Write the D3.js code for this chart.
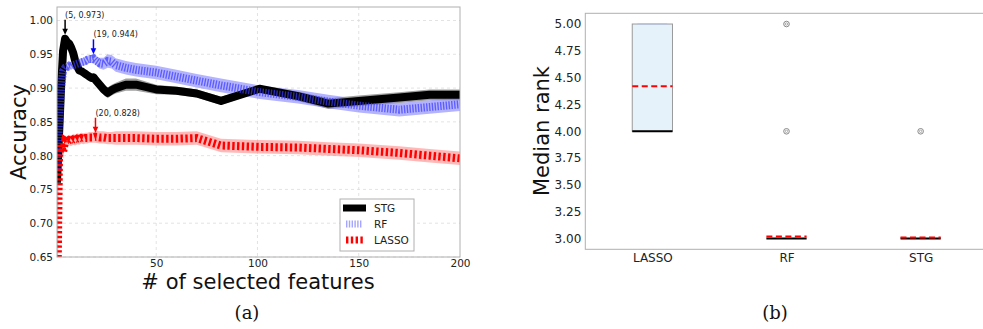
<!DOCTYPE html>
<html>
<head>
<meta charset="utf-8">
<script src="https://cdn.jsdelivr.net/npm/d3@7"></script>
<style>
  body { margin: 0; background: #fff; }
  svg { display: block; font-family: "DejaVu Sans", sans-serif; }
</style>
</head>
<body>
<div id="chart"></div>
<script>
// ---- panel (a): accuracy vs # of selected features ----
const featureCounts = [1,2,3,4,5,6,7,8,9,10,11,12,13,14,15,16,17,18,19,20,22,24,26,28,30,35,40,50,60,70,82,101,120,135,150,170,185,200];
const stgMean = [0.76,0.83,0.90,0.955,0.973,0.968,0.966,0.96,0.952,0.94,0.932,0.926,0.925,0.923,0.921,0.919,0.917,0.915,0.916,0.912,0.905,0.898,0.893,0.897,0.90,0.905,0.905,0.898,0.896,0.892,0.881,0.899,0.888,0.877,0.881,0.886,0.89,0.89];
const stgStd  = [0.01,0.01,0.008,0.005,0.004,0.004,0.004,0.004,0.004,0.004,0.004,0.004,0.004,0.004,0.004,0.004,0.004,0.004,0.004,0.005,0.006,0.007,0.008,0.008,0.008,0.009,0.009,0.007,0.006,0.006,0.006,0.005,0.007,0.008,0.008,0.008,0.008,0.008];
const rfMean  = [0.78,0.85,0.90,0.925,0.93,0.931,0.933,0.932,0.934,0.935,0.936,0.937,0.938,0.939,0.94,0.942,0.943,0.943,0.944,0.941,0.937,0.936,0.94,0.939,0.934,0.93,0.927,0.923,0.917,0.911,0.904,0.894,0.887,0.88,0.874,0.868,0.872,0.876];
const rfStd   = [0.15,0.02,0.01,0.006,0.005,0.005,0.005,0.005,0.005,0.006,0.006,0.006,0.006,0.006,0.006,0.006,0.006,0.006,0.006,0.007,0.008,0.009,0.01,0.01,0.01,0.01,0.01,0.01,0.01,0.01,0.01,0.01,0.01,0.01,0.01,0.01,0.01,0.01];
const lassoMean = [0.55,0.80,0.815,0.805,0.822,0.82,0.823,0.822,0.824,0.823,0.825,0.824,0.826,0.825,0.826,0.826,0.827,0.827,0.827,0.828,0.827,0.827,0.826,0.826,0.826,0.826,0.826,0.825,0.825,0.826,0.815,0.813,0.812,0.81,0.808,0.804,0.80,0.796];
const lassoStd  = [0.1,0.01,0.01,0.01,0.008,0.008,0.008,0.008,0.008,0.008,0.008,0.008,0.008,0.008,0.008,0.008,0.008,0.008,0.008,0.009,0.009,0.009,0.009,0.009,0.01,0.01,0.01,0.01,0.01,0.01,0.01,0.01,0.01,0.01,0.01,0.01,0.01,0.01];
const accTicks = [0.65,0.70,0.75,0.80,0.85,0.90,0.95,1.00];
const featTicks = [50,100,150,200];
const annX = [5, 19, 20];
const annY = [0.973, 0.944, 0.828];
const annColor = ["black", "blue", "red"];

// ---- panel (b): median rank box plot ----
const boxCats = ["LASSO", "RF", "STG"];
const boxQ1 = [4, 3, 3];
const boxMedian = [4, 3, 3];
const boxQ3 = [5, 3, 3];
const boxMean = [4.42, 3.02, 3.01];
const boxFliers = [[], [4, 5], [4]];
const rankTicks = [3.00,3.25,3.50,3.75,4.00,4.25,4.50,4.75,5.00];

const width = 983, height = 329;
const svg = d3.select("#chart").append("svg")
  .attr("width", width).attr("height", height);

const spine = "#b0b0b0";
const tickColor = "#222";

// ===== panel (a) =====
const a = { left: 57, right: 460, top: 7, bottom: 257 };
const x = d3.scaleLinear().domain([1, 200]).range([a.left, a.right]);
const y = d3.scaleLinear().domain([0.65, 1.02]).range([a.bottom, a.top]);

svg.append("clipPath").attr("id", "clipA")
  .append("rect").attr("x", a.left).attr("y", a.top)
  .attr("width", a.right - a.left).attr("height", a.bottom - a.top);

const ga = svg.append("g");

// grid
ga.selectAll(".hgrid").data(accTicks).enter().append("line")
  .attr("x1", a.left).attr("x2", a.right)
  .attr("y1", d => y(d)).attr("y2", d => y(d))
  .attr("stroke", "#dcdcdc").attr("stroke-dasharray", "3,3").attr("stroke-width", 0.8);
ga.selectAll(".vgrid").data(featTicks.filter(d => d < 200)).enter().append("line")
  .attr("y1", a.top).attr("y2", a.bottom)
  .attr("x1", d => x(d)).attr("x2", d => x(d))
  .attr("stroke", "#dcdcdc").attr("stroke-dasharray", "3,3").attr("stroke-width", 0.8);

const plot = ga.append("g").attr("clip-path", "url(#clipA)");

function band(mean, std) {
  return d3.area()
    .x((d, i) => x(featureCounts[i]))
    .y0((d, i) => y(mean[i] - std[i]))
    .y1((d, i) => y(mean[i] + std[i]))(mean);
}
function line(mean) {
  return d3.line().x((d, i) => x(featureCounts[i])).y(d => y(d))(mean);
}

plot.append("path").attr("d", band(stgMean, stgStd)).attr("fill", "#808080").attr("opacity", 0.75);
plot.append("path").attr("d", band(rfMean, rfStd)).attr("fill", "#8080ff").attr("opacity", 0.6);
plot.append("path").attr("d", band(lassoMean, lassoStd)).attr("fill", "#ff8080").attr("opacity", 0.55);

plot.append("path").attr("d", line(stgMean))
  .attr("fill", "none").attr("stroke", "black").attr("stroke-width", 8)
  .attr("stroke-linejoin", "round");
plot.append("path").attr("d", line(rfMean))
  .attr("fill", "none").attr("stroke", "#3a3aff").attr("stroke-width", 8)
  .attr("stroke-dasharray", "1.4,1.4").attr("opacity", 0.7);
plot.append("path").attr("d", line(lassoMean))
  .attr("fill", "none").attr("stroke", "red").attr("stroke-width", 8)
  .attr("stroke-dasharray", "2.4,2.4");

// annotations
annX.forEach((v, i) => {
  const px = x(v), py = y(annY[i]);
  ga.append("text").attr("x", px).attr("y", py - 21)
    .attr("font-size", 8).attr("fill", "#222")
    .text(`(${v}, ${annY[i].toFixed(3)})`);
  ga.append("line").attr("x1", px).attr("x2", px)
    .attr("y1", py - 19).attr("y2", py - 9)
    .attr("stroke", annColor[i]).attr("stroke-width", 1.5);
  ga.append("path")
    .attr("d", `M${px - 2.8},${py - 10} L${px + 2.8},${py - 10} L${px},${py - 4} Z`)
    .attr("fill", annColor[i]);
});

// frame
ga.append("rect").attr("x", a.left).attr("y", a.top)
  .attr("width", a.right - a.left).attr("height", a.bottom - a.top)
  .attr("fill", "none").attr("stroke", spine).attr("stroke-width", 1);

// axes
const yAxisA = ga.append("g").attr("transform", `translate(${a.left},0)`)
  .call(d3.axisLeft(y).tickValues(accTicks).tickFormat(d3.format(".2f")).tickSize(0).tickPadding(4));
const xAxisA = ga.append("g").attr("transform", `translate(0,${a.bottom})`)
  .call(d3.axisBottom(x).tickValues(featTicks).tickFormat(d3.format("d")).tickSize(0).tickPadding(3));
[yAxisA, xAxisA].forEach(g => {
  g.select(".domain").remove();
  g.selectAll("text").attr("font-size", 10.5).attr("fill", tickColor)
    .attr("font-family", "DejaVu Sans");
});

ga.append("text")
  .attr("transform", `translate(26,132) rotate(-90)`)
  .attr("text-anchor", "middle").attr("font-size", 21).attr("fill", "#111")
  .text("Accuracy");
ga.append("text")
  .attr("x", 258).attr("y", 289)
  .attr("text-anchor", "middle").attr("font-size", 21).attr("fill", "#111")
  .text("# of selected features");
ga.append("text")
  .attr("x", 247).attr("y", 319)
  .attr("text-anchor", "middle").attr("font-size", 18).attr("fill", "#111")
  .attr("font-family", "DejaVu Serif")
  .text("(a)");

// legend
const legend = ga.append("g");
legend.append("rect").attr("x", 340).attr("y", 199).attr("width", 74).attr("height", 52)
  .attr("fill", "white").attr("stroke", spine).attr("stroke-width", 1);
const legItems = [
  { name: "STG", color: "black", dash: null, opacity: 1, x1: 343, x2: 366 },
  { name: "RF", color: "#6a6aff", dash: "1.4,1.4", opacity: 0.6, x1: 346, x2: 362 },
  { name: "LASSO", color: "red", dash: "2.4,2.4", opacity: 1, x1: 346, x2: 364 }
];
legItems.forEach((d, i) => {
  const ly = 208 + i * 16;
  legend.append("line").attr("x1", d.x1).attr("x2", d.x2)
    .attr("y1", ly).attr("y2", ly)
    .attr("stroke", d.color).attr("stroke-width", 7)
    .attr("stroke-dasharray", d.dash).attr("opacity", d.opacity);
  legend.append("text").attr("x", 374).attr("y", ly + 4)
    .attr("font-size", 10.5).attr("fill", "#222").text(d.name);
});

// ===== panel (b) =====
const b = { left: 585.3, right: 987.7, top: 13.3, bottom: 249.3 };
const xr = d3.scaleLinear().domain([0.5, 3.5]).range([b.left, b.right]);
const yr = d3.scaleLinear().domain([2.9, 5.1]).range([b.bottom, b.top]);
const gb = svg.append("g");
const boxW = 0.3;

boxCats.forEach((c, i) => {
  const cx = xr(i + 1);
  const x0 = xr(i + 1 - boxW / 2), x1 = xr(i + 1 + boxW / 2);
  if (boxQ3[i] > boxQ1[i]) {
    gb.append("rect").attr("x", x0).attr("y", yr(boxQ3[i]))
      .attr("width", x1 - x0).attr("height", yr(boxQ1[i]) - yr(boxQ3[i]))
      .attr("fill", "#e6f2f9").attr("stroke", "#9a9a9a").attr("stroke-width", 1);
    gb.append("line").attr("x1", xr(i + 1 - 0.11)).attr("x2", xr(i + 1 + 0.11))
      .attr("y1", yr(boxQ3[i])).attr("y2", yr(boxQ3[i]))
      .attr("stroke", "#b8c4dc").attr("stroke-width", 1.5);
  }
  gb.append("line").attr("x1", x0).attr("x2", x1)
    .attr("y1", yr(boxMedian[i])).attr("y2", yr(boxMedian[i]))
    .attr("stroke", "black").attr("stroke-width", 2);
  gb.append("line").attr("x1", x0).attr("x2", x1)
    .attr("y1", yr(boxMean[i])).attr("y2", yr(boxMean[i]))
    .attr("stroke", "red").attr("stroke-width", 2).attr("stroke-dasharray", "6,3.5");
  boxFliers[i].forEach(f => {
    gb.append("circle").attr("cx", cx).attr("cy", yr(f)).attr("r", 2.8)
      .attr("fill", "none").attr("stroke", "#888").attr("stroke-width", 1);
    gb.append("circle").attr("cx", cx).attr("cy", yr(f)).attr("r", 1.2)
      .attr("fill", "none").attr("stroke", "#999").attr("stroke-width", 0.8);
  });
});

gb.append("rect").attr("x", b.left).attr("y", b.top)
  .attr("width", b.right - b.left).attr("height", b.bottom - b.top)
  .attr("fill", "none").attr("stroke", spine).attr("stroke-width", 1);

const yAxisB = gb.append("g").attr("transform", `translate(${b.left},0)`)
  .call(d3.axisLeft(yr).tickValues(rankTicks).tickFormat(d3.format(".2f")).tickSize(0).tickPadding(4));
const xAxisB = gb.append("g").attr("transform", `translate(0,${b.bottom})`)
  .call(d3.axisBottom(xr).tickValues([1, 2, 3]).tickFormat((d, i) => boxCats[i]).tickSize(0).tickPadding(4));
[yAxisB, xAxisB].forEach(g => {
  g.select(".domain").remove();
  g.selectAll("text").attr("font-size", 12).attr("fill", tickColor)
    .attr("font-family", "DejaVu Sans");
});

gb.append("text")
  .attr("transform", `translate(549,131) rotate(-90)`)
  .attr("text-anchor", "middle").attr("font-size", 21).attr("fill", "#111")
  .text("Median rank");
gb.append("text")
  .attr("x", 775).attr("y", 319)
  .attr("text-anchor", "middle").attr("font-size", 18).attr("fill", "#111")
  .attr("font-family", "DejaVu Serif")
  .text("(b)");
</script>
</body>
</html>
